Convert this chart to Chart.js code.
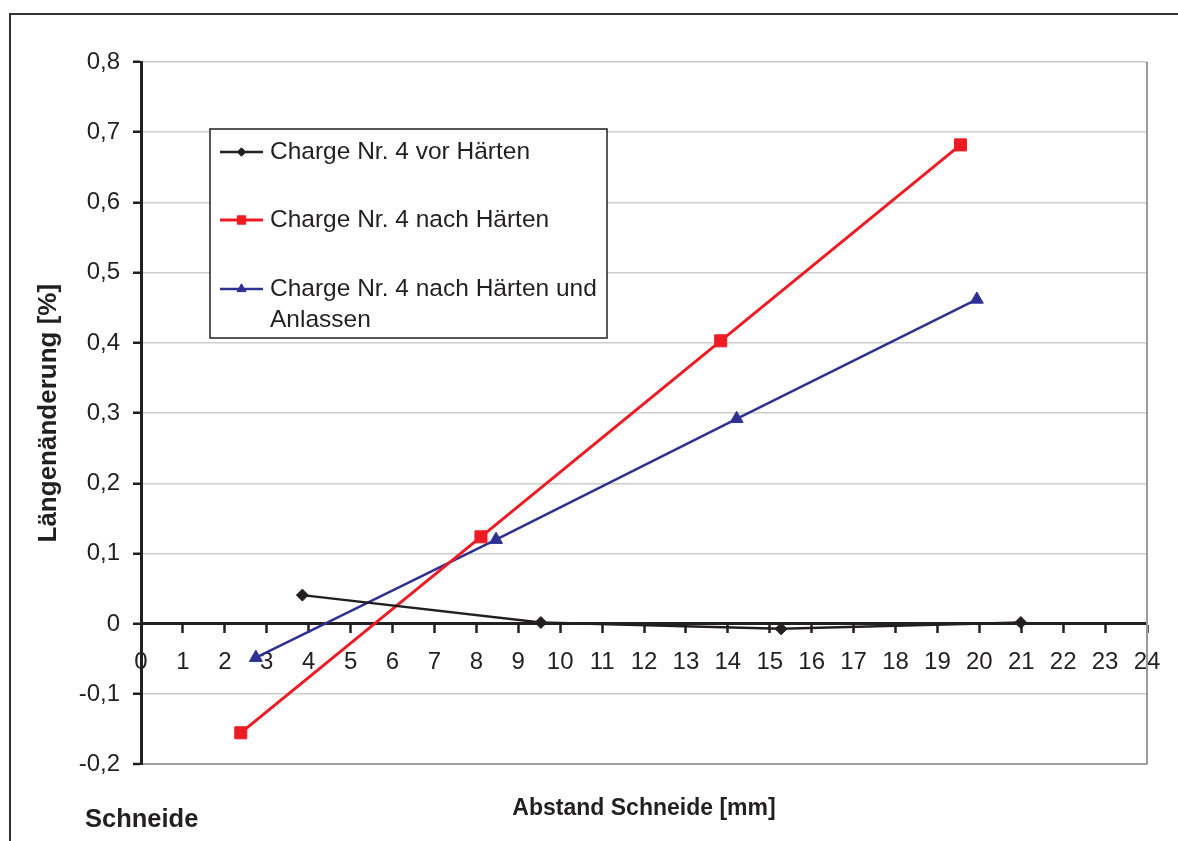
<!DOCTYPE html>
<html lang="de">
<head>
    <meta charset="UTF-8">
    <title>Längenänderung</title>
    <script src="https://cdn.jsdelivr.net/npm/chart.js"></script>
    <style>
        html, body { margin: 0; padding: 0; background: #fff; }
        #wrap { width: 1178px; height: 841px; }
    </style>
</head>
<body>
    <div id="wrap"><canvas id="chart"></canvas></div>
    <script>
    // Messwerte: Abstand zur Schneide [mm] und Längenänderung [%]
    const abstandVor = [3.85, 9.54, 15.27, 20.99];
    const aenderungVor = [0.041, 0.002, -0.007, 0.002];

    const abstandNach = [2.38, 8.11, 13.83, 19.55];
    const aenderungNach = [-0.155, 0.124, 0.403, 0.682];

    const abstandAnl = [2.74, 8.47, 14.21, 19.94];
    const aenderungAnl = [-0.048, 0.120, 0.292, 0.462];

    const serienNamen = [
        'Charge Nr. 4 vor Härten',
        'Charge Nr. 4 nach Härten',
        'Charge Nr. 4 nach Härten und\nAnlassen'
    ];

    const xMin = 0, xMax = 24, xStep = 1;
    const yMin = -0.2, yMax = 0.8, yStep = 0.1;

    const INK = '#231f20';
    const FONT = "'Liberation Sans', Arial, sans-serif";

    function punkte(xs, ys) {
        return xs.map((x, i) => ({ x: x, y: ys[i] }));
    }

    // Rahmen, rechte Diagrammkante, Legende und Beschriftung "Schneide"
    const extras = {
        id: 'extras',
        beforeDraw(chart) {
            const c = chart.ctx;
            c.save();
            c.strokeStyle = '#333';
            c.lineWidth = 2;
            c.beginPath();
            c.moveTo(10, chart.height);
            c.lineTo(10, 14);
            c.lineTo(chart.width, 14);
            c.stroke();
            c.restore();
        },
        afterDraw(chart) {
            const c = chart.ctx;
            const a = chart.chartArea;
            c.save();
            c.strokeStyle = '#9a9a9a';
            c.lineWidth = 2;
            c.beginPath();
            c.moveTo(a.right, a.top);
            c.lineTo(a.right, a.bottom);
            c.stroke();

            // Legende
            const box = { l: 210, t: 129, r: 607, b: 338 };
            c.fillStyle = '#fff';
            c.fillRect(box.l, box.t, box.r - box.l, box.b - box.t);
            c.strokeStyle = INK;
            c.lineWidth = 1.5;
            c.strokeRect(box.l, box.t, box.r - box.l, box.b - box.t);

            const rows = [152, 220, 289];
            c.textBaseline = 'middle';
            chart.data.datasets.forEach((ds, i) => {
                const y = rows[i];
                c.strokeStyle = ds.borderColor;
                c.lineWidth = ds.borderWidth;
                c.beginPath();
                c.moveTo(220, y);
                c.lineTo(263, y);
                c.stroke();
                c.fillStyle = ds.borderColor;
                c.lineWidth = 1;
                Chart.helpers.drawPoint(c, {
                    pointStyle: ds.pointStyle,
                    radius: ds.pointRadius * 0.7,
                    borderWidth: 1
                }, 241.5, y);
                c.fillStyle = INK;
                c.font = '24.5px ' + FONT;
                ds.label.split('\n').forEach((line, j) => {
                    c.fillText(line, 270, y + j * 31);
                });
            });

            c.font = 'bold 25.5px ' + FONT;
            c.fillStyle = INK;
            c.textBaseline = 'alphabetic';
            c.fillText('Schneide', 85, 827);
            c.restore();
        }
    };

    function serie(label, xs, ys, farbe, stil, radius, breite) {
        return {
            label: label,
            data: punkte(xs, ys),
            showLine: true,
            borderColor: farbe,
            backgroundColor: farbe,
            borderWidth: breite,
            pointStyle: stil,
            pointRadius: radius,
            pointBorderWidth: 1,
            pointBorderColor: farbe,
            pointBackgroundColor: farbe
        };
    }

    new Chart(document.getElementById('chart'), {
        type: 'scatter',
        data: {
            datasets: [
                serie(serienNamen[0], abstandVor, aenderungVor, INK, 'rectRot', 6, 2.5),
                serie(serienNamen[1], abstandNach, aenderungNach, '#ed1c24', 'rect', 8.5, 3),
                serie(serienNamen[2], abstandAnl, aenderungAnl, '#2e3192', 'triangle', 7.5, 2.5)
            ]
        },
        options: {
            responsive: true,
            maintainAspectRatio: false,
            animation: false,
            layout: { padding: { top: 62, left: 31, right: 31, bottom: 0 } },
            plugins: {
                legend: { display: false },
                tooltip: { enabled: false },
                title: {
                    display: true,
                    position: 'bottom',
                    fullSize: false,
                    text: 'Abstand Schneide [mm]',
                    color: INK,
                    font: { family: FONT, size: 23, weight: 'bold' },
                    padding: { top: 30, bottom: 19 }
                }
            },
            scales: {
                x: {
                    type: 'linear',
                    position: { y: 0 },
                    min: xMin,
                    max: xMax,
                    ticks: {
                        stepSize: xStep,
                        color: INK,
                        padding: 16,
                        maxRotation: 0,
                        autoSkip: false,
                        font: { family: FONT, size: 24 }
                    },
                    grid: {
                        drawOnChartArea: false,
                        drawTicks: true,
                        tickLength: 8,
                        tickColor: INK,
                        tickWidth: 2.5
                    },
                    border: { color: INK, width: 3 }
                },
                y: {
                    type: 'linear',
                    position: 'left',
                    min: yMin,
                    max: yMax,
                    afterFit(scale) { scale.width = 110; },
                    ticks: {
                        stepSize: yStep,
                        color: INK,
                        padding: 13,
                        font: { family: FONT, size: 24 },
                        callback: v => Math.abs(v) < 1e-9 ? '0' : v.toFixed(1).replace('.', ',')
                    },
                    grid: {
                        color: ctx => (ctx.tick && Math.abs(ctx.tick.value - yMin) < 1e-9) ? '#a0a0a0' : '#cccccc',
                        lineWidth: ctx => (ctx.tick && Math.abs(ctx.tick.value - yMin) < 1e-9) ? 2 : 1.5,
                        tickLength: 8,
                        tickColor: INK,
                        tickWidth: 2.5
                    },
                    border: { color: INK, width: 3 },
                    title: {
                        display: true,
                        text: 'Längenänderung [%]',
                        color: INK,
                        font: { family: FONT, size: 26, weight: 'bold' },
                        padding: { top: 2, bottom: 0 }
                    }
                }
            }
        },
        plugins: [extras]
    });
    </script>
</body>
</html>
